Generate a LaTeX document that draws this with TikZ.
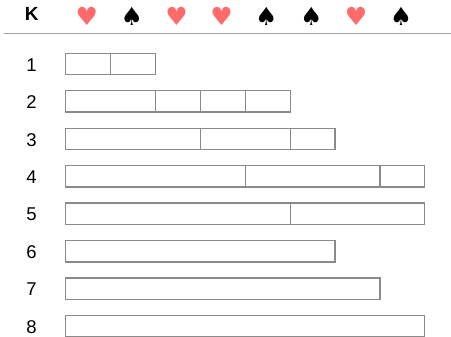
\documentclass[tikz,border=0pt]{standalone}
\usepackage{fontspec}
\setmainfont{Liberation Sans}
\newfontfamily\symfont{DejaVu Sans}
\definecolor{heartred}{HTML}{FF6B6B}
\definecolor{boxgray}{HTML}{8A8A8A}
\definecolor{rulegray}{HTML}{A0A0A0}
\begin{document}
\begin{tikzpicture}[x=1pt,y=-1pt,
  cell/.style={draw=boxgray, line width=1.3pt, rectangle, inner sep=0pt, minimum height=21.4pt, anchor=north west, fill=white},
  numlbl/.style={font=\fontsize{18.5}{20}\selectfont, anchor=center, inner sep=0pt},
  headk/.style={font=\fontsize{19}{20}\selectfont\bfseries, anchor=center, inner sep=0pt},
  suit/.style={font=\symfont\fontsize{25}{26}\selectfont, anchor=center, inner sep=0pt}]
\useasboundingbox (0,0) rectangle (451,337);
\node[headk] (K) at (31.7,14.3) {K};
\foreach \i/\s/\c in {1/♥/heartred,2/♠/black,3/♥/heartred,4/♥/heartred,5/♠/black,6/♠/black,7/♥/heartred,8/♠/black}{
  \node[suit, text=\c] (h\i) at ({64.5+(\i-0.5)*44.875},16) {\s};
}
\coordinate (ruleL) at (4,33.7);
\coordinate (ruleR) at (451,33.7);
\draw[rulegray, line width=1.5pt] (ruleL) -- (ruleR);
\foreach \r/\parts in {1/{0/1,1/1},2/{0/2,2/1,3/1,4/1},3/{0/3,3/2,5/1},4/{0/4,4/3,7/1},5/{0/5,5/3},6/{0/6},7/{0/7},8/{0/8}}{
  \pgfmathsetmacro\yt{52.65+(\r-1)*37.45}
  \node[numlbl] (n\r) at (31.5,{\yt+12.2}) {\r};
  \foreach \s/\l in \parts {
    \node[cell, minimum width={\l*44.875pt}] (c\r-\s) at ({65.15+\s*44.875},\yt) {};
  }
}
\end{tikzpicture}
\end{document}
